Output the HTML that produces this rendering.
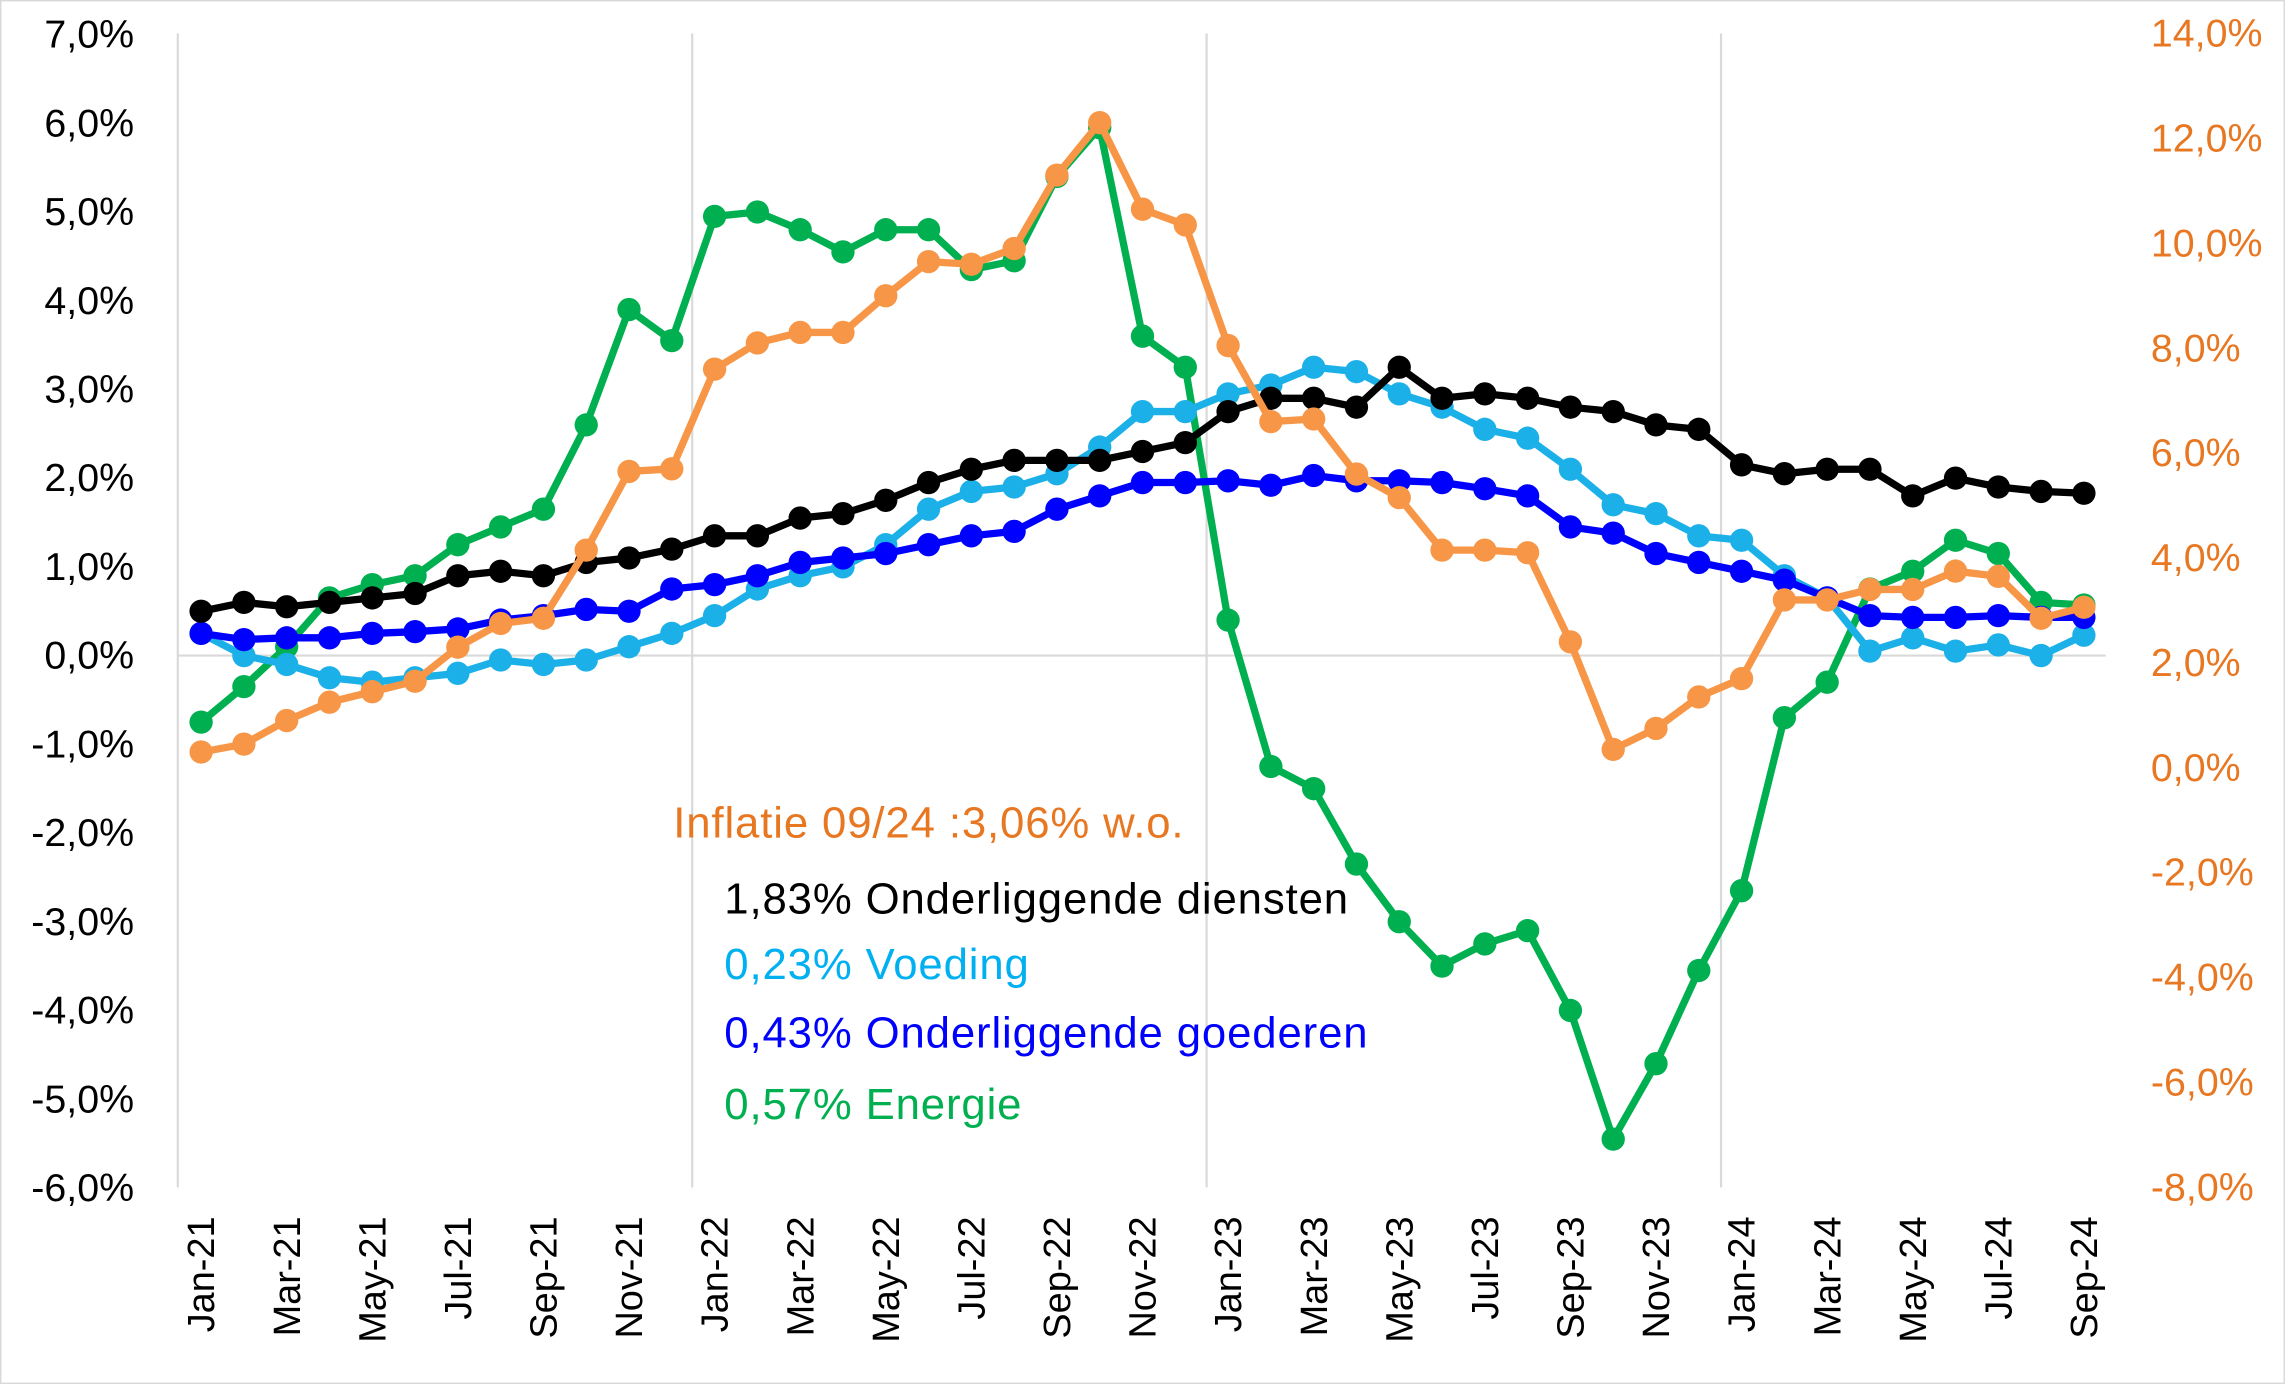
<!DOCTYPE html>
<html><head><meta charset="utf-8">
<style>
html,body{margin:0;padding:0;background:#fff;}
svg{display:block;}
text{font-family:"Liberation Sans",sans-serif;}
.ann{font-size:30px;letter-spacing:0.6px;}
</style></head>
<body>
<svg id="c" width="2285" height="1384" viewBox="0 0 1568 950" preserveAspectRatio="none" xmlns="http://www.w3.org/2000/svg">
<rect x="0.5" y="0.5" width="1567" height="949" fill="#fff" stroke="#d9d9d9"/>
<g id="grid"></g>
<g id="series"></g>
<g id="labels"></g>
<text class="ann" x="462" y="575" fill="#e87722">Inflatie 09/24 :3,06% w.o.</text>
<text class="ann" x="497" y="627" fill="#000">1,83% Onderliggende diensten</text>
<text class="ann" x="497" y="672" fill="#00b0f0">0,23% Voeding</text>
<text class="ann" x="497" y="719" fill="#0000ff">0,43% Onderliggende goederen</text>
<text class="ann" x="497" y="768" fill="#00b050">0,57% Energie</text>
</svg>
<script>
var NS="http://www.w3.org/2000/svg";
function el(p,t,a,txt){var e=document.createElementNS(NS,t);for(var k in a)e.setAttribute(k,a[k]);if(txt!==undefined)e.textContent=txt;p.appendChild(e);return e;}
var X0=138,DX=(1430-138)/44;
function X(i){return X0+i*DX;}
function YL(v){return 450-v*60.9;}
function YR(v){return 527-v*36;}
var g=document.getElementById('grid'),s=document.getElementById('series'),L=document.getElementById('labels');
[475,828,1181].forEach(function(x){el(g,'line',{x1:x,y1:23,x2:x,y2:815,stroke:'#d9d9d9','stroke-width':1.5});});
el(g,'line',{x1:122,y1:23,x2:122,y2:815,stroke:'#d9d9d9','stroke-width':1.5});
el(g,'line',{x1:122,y1:450,x2:1445,y2:450,stroke:'#d9d9d9','stroke-width':1.5});
for(var v=7;v>=-6;v--){el(L,'text',{x:92,y:YL(v)+9,'font-size':27,'text-anchor':'end',fill:'#000'},v.toFixed(1).replace('.',',')+'%');}
for(var r=14;r>=-8;r-=2){el(L,'text',{x:1476,y:YR(r)+9,'font-size':27,fill:'#e87722'},r.toFixed(1).replace('.',',')+'%');}
var m=['Jan','Mar','May','Jul','Sep','Nov'];
for(var i=0;i<45;i+=2){var yr=21+Math.floor(i/12);var lab=m[(i%12)/2]+'-'+yr;
 var x=X(i)+9;el(L,'text',{x:0,y:0,'font-size':26,'text-anchor':'end',transform:'translate('+x+',835) rotate(-90)',fill:'#000'},lab);}
var black=[0.5,0.6,0.55,0.6,0.65,0.7,0.9,0.95,0.9,1.05,1.1,1.2,1.35,1.35,1.55,1.6,1.75,1.95,2.1,2.2,2.2,2.2,2.3,2.4,2.75,2.9,2.9,2.8,3.25,2.9,2.95,2.9,2.8,2.75,2.6,2.55,2.15,2.05,2.1,2.1,1.8,2.0,1.9,1.85,1.83];
var light=[0.25,0.0,-0.1,-0.25,-0.3,-0.25,-0.2,-0.05,-0.1,-0.05,0.1,0.25,0.45,0.75,0.9,1.0,1.25,1.65,1.85,1.9,2.05,2.35,2.75,2.75,2.95,3.05,3.25,3.2,2.95,2.8,2.55,2.45,2.1,1.7,1.6,1.35,1.3,0.9,0.65,0.05,0.2,0.05,0.12,0.0,0.23];
var blue=[0.25,0.18,0.2,0.2,0.25,0.27,0.3,0.4,0.45,0.52,0.5,0.75,0.8,0.9,1.05,1.1,1.15,1.25,1.35,1.4,1.65,1.8,1.95,1.95,1.97,1.92,2.03,1.97,1.97,1.95,1.88,1.8,1.45,1.38,1.15,1.05,0.95,0.85,0.65,0.45,0.43,0.43,0.45,0.43,0.43];
var green=[-0.75,-0.35,0.1,0.65,0.8,0.9,1.25,1.45,1.65,2.6,3.9,3.55,4.95,5.0,4.8,4.55,4.8,4.8,4.35,4.45,5.4,5.95,3.6,3.25,0.4,-1.25,-1.5,-2.35,-3.0,-3.5,-3.25,-3.1,-4.0,-5.45,-4.6,-3.55,-2.65,-0.7,-0.3,0.75,0.95,1.3,1.15,0.6,0.57];
var orange=[0.3,0.45,0.9,1.25,1.45,1.65,2.3,2.75,2.85,4.15,5.65,5.7,7.6,8.1,8.3,8.3,9.0,9.65,9.6,9.9,11.3,12.3,10.65,10.35,8.05,6.6,6.65,5.6,5.15,4.15,4.15,4.1,2.4,0.35,0.75,1.35,1.7,3.2,3.2,3.4,3.4,3.75,3.65,2.85,3.06];
function draw(d,f,col){var pts=d.map(function(v,i){return X(i).toFixed(1)+','+f(v).toFixed(1);}).join(' ');
 el(s,'polyline',{points:pts,fill:'none',stroke:col,'stroke-width':5,'stroke-linejoin':'round'});
 d.forEach(function(v,i){el(s,'circle',{cx:X(i),cy:f(v),r:8,fill:col});});}
draw(green,YL,'#00b050');
draw(light,YL,'#1cb0e8');
draw(blue,YL,'#0000ff');
draw(black,YL,'#000000');
draw(orange,YR,'#f79646');
</script>
</body></html>
